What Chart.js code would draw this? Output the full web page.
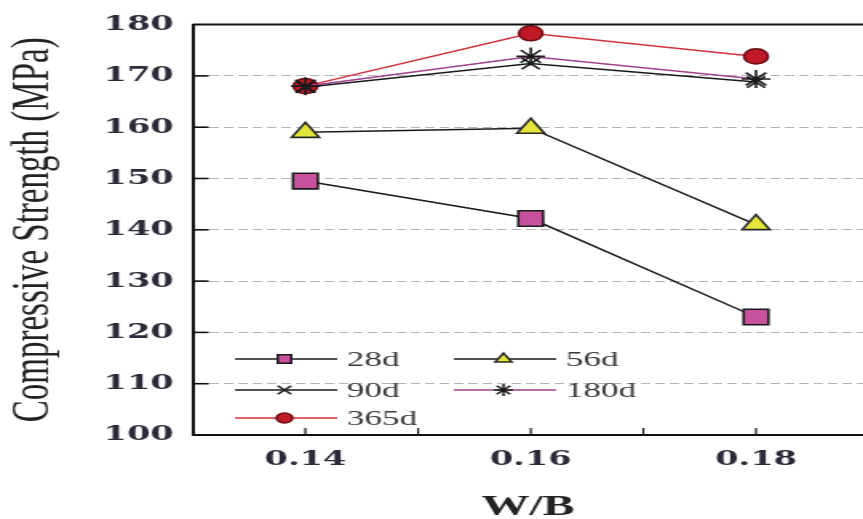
<!DOCTYPE html>
<html>
<head>
<meta charset="utf-8">
<script src="https://cdn.jsdelivr.net/npm/chart.js@4/dist/chart.umd.min.js"></script>
<style>
  html, body { margin: 0; padding: 0; background: #fff; overflow: hidden; }
  /* the source figure is stretched sideways, so draw narrow and stretch */
  #wrap { position: absolute; left: 0; top: 0; width: 540px; height: 519px; transform: scaleX(1.5982); transform-origin: 0 0; }
  #chart { display: block; }
</style>
</head>
<body>
<div id="wrap"><canvas id="chart" width="540" height="519"></canvas></div>
<script>
// W/B ratio on x, compressive strength (MPa) on y
const wbValues = [0.14, 0.16, 0.18];
const wbLabels = ['0.14', '0.16', '0.18'];
const wbTickMarks = [0.14, 0.15, 0.16, 0.17, 0.18];
const strength28d = [149.5, 142.2, 123.0];
const strength56d = [159.0, 159.8, 141.0];
const strength90d = [167.8, 172.4, 168.8];
const strength180d = [168.0, 173.8, 169.4];
const strength365d = [168.0, 178.3, 173.8];
const yTicks = [100, 110, 120, 130, 140, 150, 160, 170, 180];

const toPoints = arr => wbValues.map((x, i) => ({ x, y: arr[i] }));

const SERIES = [
  { label: '28d', data: strength28d, line: '#1a1a1a', fill: '#c8519e', edge: '#1a1a1a', style: 'rect', r: 11, lr: 6 },
  { label: '56d', data: strength56d, line: '#1a1a1a', fill: '#e4e43a', edge: '#2a2a2a', style: 'triangle', r: 10, lr: 6 },
  { label: '90d', data: strength90d, line: '#1a1a1a', fill: '#1a1a1a', edge: '#1a1a1a', style: 'crossRot', r: 8, lr: 6 },
  { label: '180d', data: strength180d, line: '#a0408e', fill: '#1a1a1a', edge: '#1a1a1a', style: 'star', r: 9, lr: 6 },
  { label: '365d', data: strength365d, line: '#d2323e', fill: '#c01a28', edge: '#6e0c14', style: 'circle', r: 7.5, lr: 5 },
];

// legend slots inside the plot (unscaled px)
const LEGEND_SLOTS = [
  { x: 147, y: 359 }, { x: 284, y: 359 },
  { x: 147, y: 390 }, { x: 284, y: 390 },
  { x: 147, y: 418 }
];

const framePlugin = {
  id: 'frame',
  afterDraw(chart) {
    const { ctx, chartArea: a, scales: { x, y } } = chart;
    ctx.save();
    ctx.strokeStyle = '#111';
    // top border
    ctx.lineWidth = 2;
    ctx.beginPath();
    ctx.moveTo(a.left, a.top);
    ctx.lineTo(a.right, a.top);
    ctx.stroke();
    // inward ticks
    ctx.lineWidth = 1.6;
    y.ticks.forEach(t => {
      if (t.value <= 100 || t.value >= 180) return;
      const py = y.getPixelForValue(t.value);
      ctx.beginPath();
      ctx.moveTo(a.left, py);
      ctx.lineTo(a.left + 10, py);
      ctx.stroke();
    });
    ctx.lineWidth = 1.2;
    x.ticks.forEach(t => {
      const px = x.getPixelForValue(t.value);
      ctx.beginPath();
      ctx.moveTo(px, a.bottom);
      ctx.lineTo(px, a.bottom - 7);
      ctx.stroke();
    });

    // legend
    chart.data.datasets.forEach((ds, i) => {
      const slot = LEGEND_SLOTS[i];
      const s = SERIES[i];
      ctx.strokeStyle = ds.borderColor;
      ctx.lineWidth = 1.5;
      ctx.beginPath();
      ctx.moveTo(slot.x, slot.y);
      ctx.lineTo(slot.x + 64, slot.y);
      ctx.stroke();
      ctx.fillStyle = s.fill;
      ctx.strokeStyle = s.edge;
      Chart.helpers.drawPoint(ctx, { pointStyle: s.style, radius: s.lr, borderWidth: 1.2, rotation: 0 }, slot.x + 31, slot.y);
      ctx.fillStyle = '#3a3a3a';
      ctx.font = '22px "Liberation Serif", serif';
      ctx.textBaseline = 'middle';
      ctx.textAlign = 'left';
      ctx.fillText(ds.label, slot.x + 70, slot.y + 1);
    });
    ctx.restore();
  }
};

new Chart(document.getElementById('chart'), {
  type: 'line',
  data: {
    datasets: SERIES.map(s => ({
      label: s.label,
      data: toPoints(s.data),
      borderColor: s.line,
      borderWidth: 1.5,
      pointStyle: s.style,
      pointRadius: s.r,
      pointBackgroundColor: s.fill,
      pointBorderColor: s.edge,
      pointBorderWidth: 1.6,
      tension: 0,
    }))
  },
  options: {
    responsive: false,
    animation: false,
    layout: { autoPadding: false, padding: { top: 23, right: 0, bottom: 0, left: 0 } },
    plugins: { legend: { display: false }, tooltip: { enabled: false } },
    scales: {
      x: {
        type: 'linear',
        min: 0.13,
        max: 0.1895,
        afterFit: s => { s.height = 84; s.paddingRight = 0; s.paddingLeft = 0; },
        afterBuildTicks: s => { s.ticks = wbTickMarks.map(v => ({ value: v })); },
        grid: { display: false, drawTicks: false },
        border: { display: true, color: '#111', width: 2 },
        ticks: {
          autoSkip: false,
          maxRotation: 0,
          padding: 12,
          color: '#2a2a38',
          font: { family: '"DejaVu Serif", serif', size: 21, weight: 'bold' },
          callback: v => {
            const i = wbValues.findIndex(w => Math.abs(w - v) < 1e-6);
            return i >= 0 ? wbLabels[i] : '';
          }
        },
        title: {
          display: true,
          text: 'W/B',
          color: '#222',
          padding: { top: 0, bottom: -3 },
          font: { family: '"Liberation Serif", serif', size: 30, weight: 'bold', lineHeight: 1 }
        }
      },
      y: {
        min: yTicks[0],
        max: yTicks[yTicks.length - 1],
        afterFit: s => { s.width = 120.6; },
        afterBuildTicks: s => { s.ticks = yTicks.map(v => ({ value: v })); },
        grid: {
          drawTicks: false,
          lineWidth: 1,
          color: c => (c.tick && c.tick.value > 100 && c.tick.value < 180) ? '#b4b4b4' : 'rgba(0,0,0,0)'
        },
        border: { display: true, color: '#111', width: 2, dash: [6, 3] },
        ticks: {
          padding: 12,
          color: '#2a2a38',
          font: { family: '"DejaVu Serif", serif', size: 21, weight: 'bold' }
        },
        title: {
          display: true,
          text: 'Compressive Strength (MPa)',
          color: '#222',
          padding: { top: 5, bottom: 0 },
          font: { family: '"Liberation Serif", serif', size: 33, lineHeight: 1 }
        }
      }
    }
  },
  plugins: [framePlugin]
});
</script>
</body>
</html>
